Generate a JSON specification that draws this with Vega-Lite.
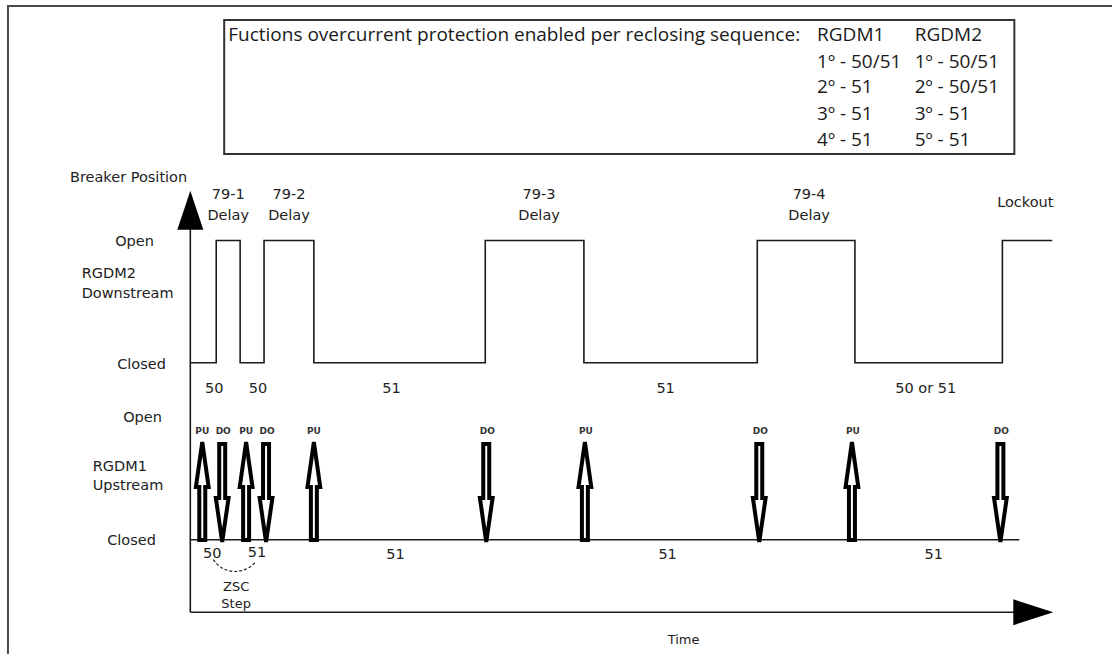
{
  "$schema": "https://vega.github.io/schema/vega-lite/v6.json",
  "autosize": {"type": "fit", "contains": "padding"},
  "width": 1116,
  "height": 658,
  "padding": 0,
  "background": "white",
  "config": {"view": {"stroke": null}},
  "datasets": {
    "frame": [
      {"x": 8, "y": 658, "o": 1}, {"x": 8, "y": 6, "o": 2}, {"x": 1116, "y": 6, "o": 3}
    ],
    "box": [{"x": 225, "x2": 1018, "y": 20, "y2": 155}],
    "wave": [
      {"x": 191, "y": 365, "o": 1}, {"x": 217, "y": 365, "o": 2}, {"x": 217, "y": 242, "o": 3},
      {"x": 241, "y": 242, "o": 4}, {"x": 241, "y": 365, "o": 5}, {"x": 265, "y": 365, "o": 6},
      {"x": 265, "y": 242, "o": 7}, {"x": 315, "y": 242, "o": 8}, {"x": 315, "y": 365, "o": 9},
      {"x": 487, "y": 365, "o": 10}, {"x": 487, "y": 242, "o": 11}, {"x": 586, "y": 242, "o": 12},
      {"x": 586, "y": 365, "o": 13}, {"x": 760, "y": 365, "o": 14}, {"x": 760, "y": 242, "o": 15},
      {"x": 858, "y": 242, "o": 16}, {"x": 858, "y": 365, "o": 17}, {"x": 1006, "y": 365, "o": 18},
      {"x": 1006, "y": 242, "o": 19}, {"x": 1056, "y": 242, "o": 20}
    ],
    "axes": [
      {"id": "yaxis", "x": 191, "y": 215, "o": 1}, {"id": "yaxis", "x": 191, "y": 616, "o": 2},
      {"id": "xaxis", "x": 191, "y": 616, "o": 1}, {"id": "xaxis", "x": 1030, "y": 616, "o": 2},
      {"id": "base", "x": 191, "y": 543, "o": 1}, {"id": "base", "x": 1023, "y": 543, "o": 2}
    ],
    "arc": [
      {"x": 214, "y": 563, "o": 1}, {"x": 222, "y": 571, "o": 2}, {"x": 236, "y": 575, "o": 3},
      {"x": 250, "y": 571, "o": 4}, {"x": 257, "y": 565, "o": 5}
    ],
    "arrows": [
      {"x": 203, "y": 494, "kind": "PU"}, {"x": 223, "y": 496, "kind": "DO"},
      {"x": 247, "y": 494, "kind": "PU"}, {"x": 267, "y": 496, "kind": "DO"},
      {"x": 315, "y": 494, "kind": "PU"}, {"x": 488, "y": 496, "kind": "DO"},
      {"x": 587, "y": 494, "kind": "PU"}, {"x": 762, "y": 496, "kind": "DO"},
      {"x": 855, "y": 494, "kind": "PU"}, {"x": 1004, "y": 496, "kind": "DO"}
    ],
    "boxtext": [
      {"x": 229, "y": 34, "t": "Fuctions overcurrent protection enabled per reclosing sequence:"},
      {"x": 820, "y": 34, "t": "RGDM1"}, {"x": 918, "y": 34, "t": "RGDM2"},
      {"x": 820, "y": 61, "t": "1º - 50/51"}, {"x": 918, "y": 61, "t": "1º - 50/51"},
      {"x": 820, "y": 87, "t": "2º - 51"}, {"x": 918, "y": 87, "t": "2º - 50/51"},
      {"x": 820, "y": 114, "t": "3º - 51"}, {"x": 918, "y": 114, "t": "3º - 51"},
      {"x": 820, "y": 140, "t": "4º - 51"}, {"x": 918, "y": 140, "t": "5º - 51"}
    ],
    "labels": [
      {"x": 129, "y": 177, "t": "Breaker Position"},
      {"x": 229, "y": 194, "t": "79-1"}, {"x": 229, "y": 215, "t": "Delay"},
      {"x": 290, "y": 194, "t": "79-2"}, {"x": 290, "y": 215, "t": "Delay"},
      {"x": 541, "y": 194, "t": "79-3"}, {"x": 541, "y": 215, "t": "Delay"},
      {"x": 812, "y": 194, "t": "79-4"}, {"x": 812, "y": 215, "t": "Delay"},
      {"x": 1029, "y": 202, "t": "Lockout"},
      {"x": 135, "y": 241, "t": "Open"},
      {"x": 142, "y": 365, "t": "Closed"},
      {"x": 215, "y": 389, "t": "50"}, {"x": 259, "y": 389, "t": "50"},
      {"x": 393, "y": 389, "t": "51"}, {"x": 668, "y": 389, "t": "51"},
      {"x": 929, "y": 389, "t": "50 or 51"},
      {"x": 143, "y": 418, "t": "Open"},
      {"x": 132, "y": 542, "t": "Closed"},
      {"x": 213, "y": 555, "t": "50"}, {"x": 258, "y": 554, "t": "51"},
      {"x": 397, "y": 556, "t": "51"}, {"x": 670, "y": 556, "t": "51"}, {"x": 937, "y": 556, "t": "51"}
    ],
    "leftlabels": [
      {"x": 82, "y": 273, "t": "RGDM2"}, {"x": 82, "y": 293, "t": "Downstream"},
      {"x": 93, "y": 467, "t": "RGDM1"}, {"x": 93, "y": 486, "t": "Upstream"}
    ],
    "smalllabels": [
      {"x": 237, "y": 587, "t": "ZSC"}, {"x": 237, "y": 604, "t": "Step"},
      {"x": 686, "y": 640, "t": "Time"}
    ],
    "tags": [
      {"x": 203, "y": 433, "t": "PU"}, {"x": 224, "y": 433, "t": "DO"},
      {"x": 247, "y": 433, "t": "PU"}, {"x": 268, "y": 433, "t": "DO"},
      {"x": 315, "y": 433, "t": "PU"}, {"x": 489, "y": 433, "t": "DO"},
      {"x": 588, "y": 433, "t": "PU"}, {"x": 763, "y": 433, "t": "DO"},
      {"x": 856, "y": 433, "t": "PU"}, {"x": 1005, "y": 433, "t": "DO"}
    ],
    "yhead": [{"x": 191, "y": 211.5}],
    "xhead": [{"x": 1037, "y": 616}]
  },
  "encoding": {
    "x": {"field": "x", "type": "quantitative", "scale": {"domain": [0, 1116], "nice": false, "zero": false}, "axis": null},
    "y": {"field": "y", "type": "quantitative", "scale": {"domain": [0, 658], "nice": false, "zero": false, "reverse": true}, "axis": null}
  },
  "layer": [
    {
      "data": {"name": "frame"},
      "mark": {"type": "line", "stroke": "#4a4a4a", "strokeWidth": 2},
      "encoding": {"order": {"field": "o", "type": "quantitative"}}
    },
    {
      "data": {"name": "box"},
      "mark": {"type": "rect", "fill": "white", "stroke": "#333333", "strokeWidth": 2},
      "encoding": {"x2": {"field": "x2"}, "y2": {"field": "y2"}}
    },
    {
      "data": {"name": "axes"},
      "mark": {"type": "line", "stroke": "#1a1a1a", "strokeWidth": 1.6},
      "encoding": {"detail": {"field": "id", "type": "nominal"}, "order": {"field": "o", "type": "quantitative"}}
    },
    {
      "data": {"name": "wave"},
      "mark": {"type": "line", "stroke": "#1a1a1a", "strokeWidth": 1.6},
      "encoding": {"order": {"field": "o", "type": "quantitative"}}
    },
    {
      "data": {"name": "arc"},
      "mark": {"type": "line", "stroke": "#222222", "strokeWidth": 1.2, "strokeDash": [3, 2], "interpolate": "monotone"},
      "encoding": {"order": {"field": "o", "type": "quantitative"}}
    },
    {
      "data": {"name": "yhead"},
      "mark": {"type": "point", "shape": "M0,-1L0.667,1L-0.667,1Z", "size": 1521, "filled": true, "fill": "black", "stroke": null, "opacity": 1},
      "encoding": {}
    },
    {
      "data": {"name": "xhead"},
      "mark": {"type": "point", "shape": "M1,0L-1,0.65L-1,-0.65Z", "size": 1600, "filled": true, "fill": "black", "stroke": null, "opacity": 1},
      "encoding": {}
    },
    {
      "data": {"name": "arrows"},
      "mark": {"type": "point", "size": 9604, "filled": true, "fill": "white", "stroke": "black", "strokeWidth": 4, "opacity": 1, "strokeJoin": "miter"},
      "encoding": {
        "shape": {
          "field": "kind", "type": "nominal", "legend": null,
          "scale": {
            "domain": ["PU", "DO"],
            "range": [
              "M0,-1L0.13,-0.08L0.061,-0.08L0.061,1L-0.061,1L-0.061,-0.08L-0.13,-0.08Z",
              "M0,1L0.13,0.1L0.061,0.1L0.061,-1L-0.061,-1L-0.061,0.1L-0.13,0.1Z"
            ]
          }
        }
      }
    },
    {
      "data": {"name": "boxtext"},
      "mark": {"type": "text", "align": "left", "baseline": "middle", "font": "Open Sans", "fontSize": 19, "dy": 1, "fill": "#1a1a1a"},
      "encoding": {"text": {"field": "t", "type": "nominal"}}
    },
    {
      "data": {"name": "labels"},
      "mark": {"type": "text", "align": "center", "baseline": "middle", "font": "DejaVu Sans", "fontSize": 14.5, "dy": 2.5, "fill": "#222222"},
      "encoding": {"text": {"field": "t", "type": "nominal"}}
    },
    {
      "data": {"name": "leftlabels"},
      "mark": {"type": "text", "align": "left", "baseline": "middle", "font": "DejaVu Sans", "fontSize": 14.5, "dy": 2.5, "fill": "#222222"},
      "encoding": {"text": {"field": "t", "type": "nominal"}}
    },
    {
      "data": {"name": "smalllabels"},
      "mark": {"type": "text", "align": "center", "baseline": "middle", "font": "DejaVu Sans", "fontSize": 13, "dy": 4, "fill": "#222222"},
      "encoding": {"text": {"field": "t", "type": "nominal"}}
    },
    {
      "data": {"name": "tags"},
      "mark": {"type": "text", "align": "center", "baseline": "middle", "font": "DejaVu Sans", "fontSize": 9, "fontWeight": "bold", "dy": 1, "fill": "#333333"},
      "encoding": {"text": {"field": "t", "type": "nominal"}}
    }
  ]
}
